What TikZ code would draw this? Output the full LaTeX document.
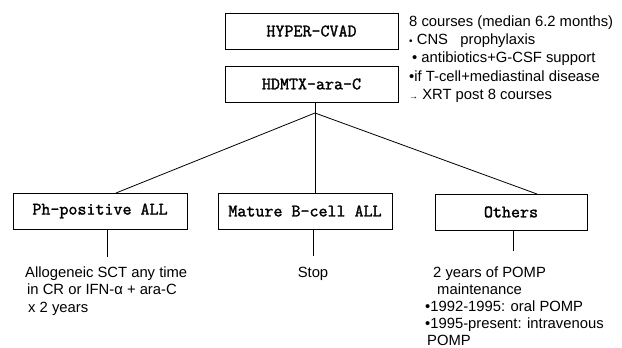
\documentclass[tikz,border=0pt]{standalone}
\usepackage{fontspec}
\setmainfont{Liberation Sans}
\newfontfamily\boxfont{Latin Modern Mono}[FakeBold=1.6]
\begin{document}
\begin{tikzpicture}[x=1pt,y=-1pt,
  boxnode/.style={draw,line width=0.9pt,minimum height=36pt,inner sep=0pt,
    font=\boxfont\fontsize{17.5}{19}\selectfont},
  conn/.style={line width=0.8pt},
  txt/.style={anchor=base west,inner sep=0pt,font=\fontsize{14.8}{17.5}\selectfont},
  txtc/.style={anchor=base,inner sep=0pt,font=\fontsize{14.8}{17.5}\selectfont}]
\useasboundingbox (0,0) rectangle (622,348);
% boxes
\node[boxnode,minimum width=173pt] (hyper) at (311.5,31) {HYPER-CVAD};
\node[boxnode,minimum width=173pt] (hdmtx) at (311.5,84) {HDMTX-ara-C};
\node[boxnode,minimum width=174pt] (ph) at (100,211) {Ph-positive ALL};
\node[boxnode,minimum width=174pt] (mature) at (305,211) {Mature B-cell ALL};
\node[boxnode,minimum width=152pt] (others) at (511,212) {Others};
% connectors
\coordinate (junc) at (315,113);
\coordinate (phtop) at (116,193);
\coordinate (mattop) at (315,193);
\coordinate (othtop) at (537,194);
\draw[conn] (hdmtx.south -| junc) -- (junc);
\draw[conn] (junc) -- (phtop);
\draw[conn] (junc) -- (mattop);
\draw[conn] (junc) -- (othtop);
\coordinate (phend) at (107,257);
\coordinate (matend) at (313,256);
\coordinate (othend) at (513,251);
\draw[conn] (ph.south -| phend) -- (phend);
\draw[conn] (mature.south -| matend) -- (matend);
\draw[conn] (others.south -| othend) -- (othend);
% right block
\node[txt] (r1) at (409,27) {8 courses (median 6.2 months)};
\node[txt] (r2) at (409,45) {{\fontsize{10}{10}\selectfont•} CNS\ \ \ prophylaxis};
\node[txt] (r3) at (412,63) {• antibiotics+G-CSF support};
\node[txt] (r4) at (409,81) {•if T-cell+mediastinal disease};
\node[txt] (r5) at (409,99) {{\fontsize{9}{9}\selectfont→} XRT post 8 courses};
% Ph block
\node[txt] (p1) at (25,277) {Allogeneic SCT any time};
\node[txt] (p2) at (27,294.5) {in CR or IFN-α + ara-C};
\node[txt] (p3) at (28,312) {x 2 years};
% stop
\node[txtc] (s1) at (313,277) {Stop};
% others block
\node[txt] (o1) at (433,277) {2 years of POMP};
\node[txt] (o2) at (437,294) {maintenance};
\node[txt] (o3) at (425,311) {•1992-1995: oral POMP};
\node[txt] (o4) at (425,328) {•1995-present: intravenous};
\node[txt] (o5) at (427,345) {POMP};
\end{tikzpicture}
\end{document}
